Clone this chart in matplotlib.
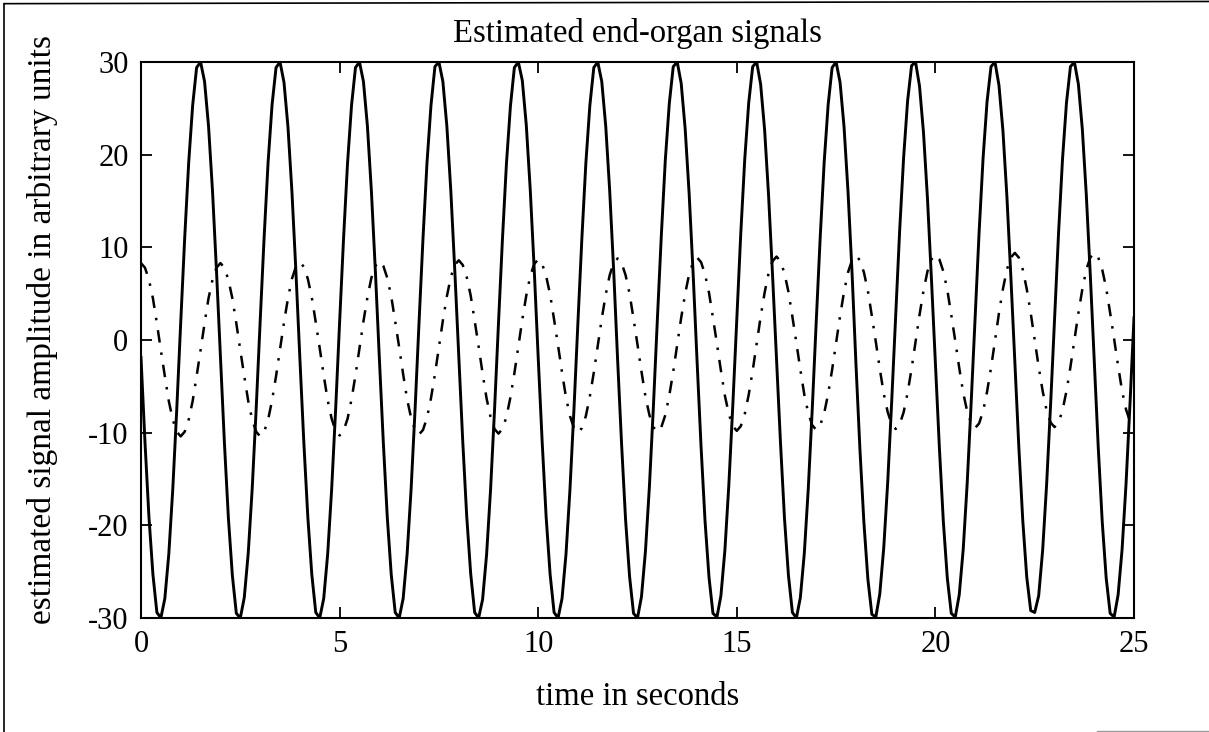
#!/usr/bin/env python3
"""Estimated end-organ signals: solid and dash-dot traces over 25 s."""

from __future__ import annotations

import numpy as np
import matplotlib
matplotlib.use("Agg")
import matplotlib.pyplot as plt
from matplotlib.lines import Line2D

# sample grid, 0.1 s steps from 0 to 25 s
TIME_S = np.round(np.arange(251) * 0.1, 1)

# solid trace, one row per 2 s cycle
SOLID_ROWS = [
    [-1.9, -11.0, -19.1, -25.3, -29.4, -30.0, -27.9, -23.1, -16.1, -7.5, 1.9, 11.0, 19.1, 25.3, 29.4, 30.0, 27.9, 23.1, 16.1, 7.5],
    [-1.9, -11.1, -19.2, -25.4, -29.5, -30.0, -27.8, -23.0, -16.0, -7.4, 2.0, 11.1, 19.2, 25.4, 29.4, 30.0, 27.8, 23.0, 16.0, 7.4],
    [-2.0, -11.1, -19.1, -25.3, -29.4, -30.0, -27.9, -23.1, -16.1, -7.5, 1.9, 11.0, 19.1, 25.3, 29.4, 30.0, 27.9, 23.1, 16.1, 7.5],
    [-1.9, -11.0, -19.1, -25.3, -29.4, -30.0, -27.9, -23.1, -16.1, -7.5, 1.9, 11.0, 19.1, 25.3, 29.5, 30.0, 27.9, 23.1, 16.1, 7.5],
    [-1.8, -10.9, -19.0, -25.2, -29.4, -30.0, -28.0, -23.2, -16.2, -7.6, 1.8, 10.9, 19.0, 25.2, 29.4, 30.0, 28.0, 23.2, 16.2, 7.6],
    [-1.9, -11.0, -19.1, -25.3, -29.4, -30.0, -27.9, -23.1, -16.1, -7.5, 1.9, 11.0, 19.1, 25.3, 29.4, 30.0, 27.9, 23.1, 16.1, 7.5],
    [-2.2, -11.3, -19.4, -25.5, -29.5, -30.0, -27.7, -22.8, -15.8, -7.2, 2.2, 11.3, 19.4, 25.5, 29.5, 30.0, 27.7, 22.8, 15.8, 7.2],
    [-2.3, -11.5, -19.5, -25.6, -29.5, -29.9, -27.6, -22.7, -15.6, -7.0, 2.3, 11.5, 19.5, 25.6, 29.5, 30.0, 27.6, 22.7, 15.6, 7.0],
    [-2.0, -11.1, -19.2, -25.4, -29.4, -30.0, -27.8, -23.0, -16.0, -7.4, 2.0, 11.1, 19.2, 25.4, 29.4, 30.0, 27.8, 23.0, 16.0, 7.4],
    [-2.6, -11.8, -19.7, -25.8, -29.6, -29.9, -27.4, -22.4, -15.3, -6.6, 2.6, 11.8, 19.7, 25.8, 29.6, 30.0, 27.4, 22.4, 15.3, 6.6],
    [-2.4, -11.6, -19.6, -25.7, -29.5, -29.9, -27.5, -22.6, -15.5, -6.8, 2.4, 11.6, 19.6, 25.7, 29.5, 30.0, 27.5, 22.6, 15.5, 6.8],
    [-2.3, -11.5, -19.5, -25.6, -29.2, -29.4, -27.6, -22.7, -15.6, -7.0, 2.3, 11.5, 19.5, 25.6, 29.5, 30.0, 27.6, 22.7, 15.6, 7.0],
]
SOLID_TAIL = [-2.4, -11.6, -19.6, -25.7, -29.5, -29.9, -27.5, -22.6, -15.5, -6.8, 2.4]

# dash-dot trace, same layout
DASHDOT_ROWS = [
    [8.3, 7.8, 6.5, 4.5, 1.8, -1.1, -3.9, -6.6, -8.6, -9.9, -10.4, -9.9, -8.6, -6.6, -3.9, -1.1, 1.8, 4.5, 6.5, 7.8],
    [8.3, 7.8, 6.5, 4.5, 1.8, -1.1, -3.9, -6.6, -8.6, -9.9, -10.4, -9.9, -8.6, -6.5, -3.9, -1.0, 1.9, 4.5, 6.6, 7.9],
    [8.4, 7.9, 6.6, 4.6, 1.9, -0.9, -3.8, -6.5, -8.5, -9.8, -10.3, -9.8, -8.5, -6.4, -3.8, -0.9, 2.0, 4.6, 6.7, 8.0],
    [8.5, 8.0, 6.7, 4.7, 2.0, -0.8, -3.7, -6.4, -8.4, -9.7, -10.2, -9.7, -8.4, -6.3, -3.7, -0.8, 2.1, 4.7, 6.8, 8.1],
    [8.6, 8.1, 6.8, 4.8, 2.1, -0.7, -3.6, -6.3, -8.3, -9.6, -10.1, -9.6, -8.3, -6.2, -3.6, -0.7, 2.2, 4.8, 6.9, 8.2],
    [8.7, 8.2, 6.9, 4.9, 2.2, -0.6, -3.5, -6.2, -8.2, -9.5, -10.0, -9.5, -8.2, -6.1, -3.5, -0.6, 2.3, 4.9, 7.0, 8.3],
    [8.8, 8.3, 7.0, 5.0, 2.3, -0.5, -3.4, -6.1, -8.1, -9.4, -9.9, -9.4, -8.1, -6.0, -3.4, -0.5, 2.4, 5.0, 7.1, 8.4],
    [8.9, 8.4, 7.1, 5.1, 2.4, -0.4, -3.3, -6.0, -8.0, -9.3, -9.8, -9.3, -8.0, -5.9, -3.3, -0.4, 2.5, 5.1, 7.2, 8.5],
    [9.0, 8.5, 7.2, 5.2, 2.5, -0.3, -3.2, -5.9, -7.9, -9.2, -9.7, -9.2, -7.9, -5.8, -3.2, -0.3, 2.6, 5.2, 7.3, 8.6],
    [9.1, 8.6, 7.3, 5.3, 2.6, -0.2, -3.1, -5.8, -7.8, -9.1, -9.6, -9.1, -7.8, -5.7, -3.1, -0.2, 2.7, 5.3, 7.4, 8.7],
    [9.2, 8.7, 7.4, 5.4, 2.7, -0.1, -3.0, -5.7, -7.7, -9.0, -9.5, -9.0, -7.7, -5.6, -3.0, -0.1, 2.9, 5.5, 7.6, 8.9],
    [9.4, 8.9, 7.6, 5.5, 2.9, 0.0, -2.9, -5.5, -7.6, -8.9, -9.4, -8.9, -7.6, -5.5, -2.9, 0.0, 2.9, 5.5, 7.6, 8.9],
]
DASHDOT_TAIL = [9.4, 8.9, 7.6, 5.6, 2.9, 0.1, -2.8, -5.5, -7.5, -8.8, -9.3]

X_TICKS = [0, 5, 10, 15, 20, 25]
Y_TICKS = [-30, -20, -10, 0, 10, 20, 30]

TITLE = "Estimated end-organ signals"
X_LABEL = "time in seconds"
Y_LABEL = "estimated signal amplitude in arbitrary units"

FONT = "Liberation Serif"
W, H = 1209, 732


def _flatten(rows, tail) -> np.ndarray:
    return np.concatenate([np.concatenate(rows), np.asarray(tail)])


def main() -> None:
    plt.rcParams["font.family"] = [FONT, "DejaVu Serif"]
    plt.rcParams["axes.unicode_minus"] = False

    solid = _flatten(SOLID_ROWS, SOLID_TAIL)
    dashdot = _flatten(DASHDOT_ROWS, DASHDOT_TAIL)

    fig = plt.figure(figsize=(W / 100, H / 100), dpi=100)
    ax = fig.add_axes([141 / W, 1 - 618 / H, (1134 - 141) / W, (618 - 62) / H])

    ax.plot(TIME_S, solid, color="black", linewidth=2.1)
    ax.plot(TIME_S, dashdot, color="black", linewidth=1.8, dashes=(5, 4, 1, 4))

    ax.set_xlim(0, 25)
    ax.set_ylim(-30, 30)
    ax.set_xticks(X_TICKS)
    ax.set_yticks(Y_TICKS)
    ax.tick_params(direction="in", length=8, width=1.3, top=True, right=True,
                   labelsize=22, pad=9)
    for spine in ax.spines.values():
        spine.set_linewidth(1.5)

    ax.set_title(TITLE, fontsize=23.5, pad=14.5)
    ax.set_xlabel(X_LABEL, fontsize=23.5)
    ax.set_ylabel(Y_LABEL, fontsize=24)

    # place axis labels at the spots seen on the page
    ax.xaxis.set_label_coords(637.5 / W, 1 - 697 / H, transform=fig.transFigure)
    ax.xaxis.label.set_va("center")
    ax.yaxis.set_label_coords(43 / W, 1 - 329 / H, transform=fig.transFigure)
    ax.yaxis.label.set_va("center")

    # page frame left over from the scan
    fig.add_artist(Line2D([0.0035, 0.0035], [0, 0.995], transform=fig.transFigure,
                          color="black", linewidth=1.2))
    fig.add_artist(Line2D([0.0035, 1.0], [0.995, 0.998], transform=fig.transFigure,
                          color="black", linewidth=1.2))
    fig.add_artist(Line2D([1097 / W, 1.0], [0.002, 0.002], transform=fig.transFigure,
                          color="#9a9a9a", linewidth=1.0))

    fig.savefig("out.png", dpi=100)
    plt.close(fig)


if __name__ == "__main__":
    main()
